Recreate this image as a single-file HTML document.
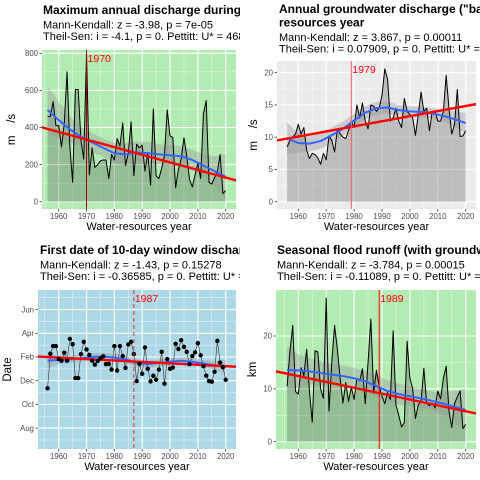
<!DOCTYPE html>
<html><head><meta charset="utf-8"><style>
body{margin:0;background:#fff;width:480px;height:480px;overflow:hidden}
svg{display:block;font-family:"Liberation Sans",sans-serif}
</style></head><body>
<svg id="c" width="480" height="480" viewBox="0 0 480 480" xmlns="http://www.w3.org/2000/svg"></svg>
<script>
const years=[];for(let y=1956;y<=2020;y++)years.push(y);
const knots=[1956,1960,1964,1968,1972,1976,1980,1984,1988,1992,1996,2000,2004,2008,2012,2016,2020];
const maxDischarge=[460,460,540,410,410,295,420,700,300,105,605,605,330,230,800,145,290,185,200,220,225,225,125,255,225,340,300,425,195,260,430,140,310,290,305,165,265,90,500,140,125,180,250,495,355,345,75,175,230,345,245,120,80,145,205,125,475,545,105,95,130,160,255,45,60];
const maxSmooth=[495,440,390,350,320,290,262,255,265,262,255,250,245,225,195,165,135];
const maxSe=[130,100,70,55,50,50,55,60,60,60,55,55,55,55,60,80,120];
const baseflow=[8.5,9.5,10,10.5,12,10.5,11.5,8,6.7,7.5,7.3,6.8,5.8,7.5,6.5,10.2,9.5,7.7,11.2,10.5,10,9.8,11,12.5,11.5,15,13,15.3,12.5,11.3,15,14.8,14,14.5,16.5,20.6,19,12.5,13,14.5,12.5,11.5,16,14,13.5,13,10.3,13.5,17,14,14.5,11,14,14,12.5,12.5,14,19.6,14.5,10.5,12,17.4,10.1,10.2,11];
const baseSmooth=[9.8,9.1,9.0,9.4,10.3,11.3,12.6,13.8,14.5,14.6,14.2,14.0,13.9,13.7,13.3,12.8,12.2];
const baseSe=[2.5,1.5,1.2,1.2,1.2,1.1,1.0,1.0,1.0,0.9,0.8,0.8,0.8,0.8,0.9,1.2,1.6];
const firstDate=[-2.64,0.28,0.92,0.92,-0.17,-0.31,0.36,-0.31,1.53,1.08,-1.78,-1.78,0.25,1.28,0.64,0.17,-0.31,-0.64,-0.33,-0.11,0.06,-0.61,-0.58,-1.06,0.92,-1.14,0.92,0.08,-0.92,1.06,1.28,0.25,-2.03,-0.58,-1.42,0.81,-1.0,-2.06,-1.58,-1.92,-1.06,0.44,-2.25,-0.17,-1.0,-0.89,1.11,0.67,1.42,0.86,0.44,-0.61,0.08,0.39,1.17,0.14,-0.78,-1.58,-2.03,-2.08,-1.25,1.36,-0.47,-0.86,-1.92];
const dateSmooth=[-0.31,-0.25,-0.2,-0.1,0.0,0.05,-0.05,-0.2,-0.5,-0.6,-0.5,-0.4,-0.32,-0.4,-0.55,-0.7,-0.85];
const dateSe=[0.6,0.35,0.3,0.3,0.3,0.3,0.3,0.3,0.3,0.3,0.3,0.3,0.3,0.3,0.3,0.35,0.6];
const floodRunoff=[10.5,17,22,9.5,9,14,12.5,17.5,9.5,3.7,17.2,17,10,8.2,27.2,5.8,15,22,17.5,12,7.3,11.2,7.6,10.3,8,12,11.5,13.8,7.2,15,23.2,9.2,13.5,10.5,8.6,7.2,9.3,8,21,7,5,2.8,3.6,19,12,10,4.4,7,7.6,13.9,7.3,6.8,7.3,6.4,9.6,8.1,12,14.3,5.8,2.7,7.2,8.5,9.6,2.5,3.3];
const floodSmooth=[13.6,13.5,13.3,13.0,12.7,12.4,12.0,11.4,10.5,9.6,9.0,8.6,8.2,7.7,7.2,6.6,6.0];
const floodSe=[4.5,3,2.5,2.2,2,2,2,2,2,2,2,1.8,1.8,1.8,2.2,3,4];
const xTicks=[1960,1970,1980,1990,2000,2010,2020];

const NS="http://www.w3.org/2000/svg";const svg=document.getElementById('c');
function mk(t,a,p){const e=document.createElementNS(NS,t);for(const k in a)e.setAttribute(k,a[k]);(p||svg).appendChild(e);return e;}

function panel(o){
 const g=mk('g',{});
 
 
 const X=y=>o.px1960+(y-1960)*(o.px2020-o.px1960)/60;
 const Y=v=>o.pyA+(v-o.vA)*(o.pyB-o.pyA)/(o.vB-o.vA);
 const cid='cl'+o.id;
 const cp=mk('clipPath',{id:cid},g);mk('rect',{x:o.l,y:o.t,width:o.r-o.l,height:o.b-o.t},cp);
 const bg=mk('rect',{x:o.l,y:o.t,width:o.r-o.l,height:o.b-o.t,fill:o.bg},g);
 
 const pc=mk('g',{'clip-path':'url(#'+cid+')'},g);
 for(let yr=1955;yr<=2025;yr+=10)mk('line',{x1:X(yr),x2:X(yr),y1:o.t,y2:o.b,stroke:'#fff','stroke-width':0.5,opacity:0.7},pc);
 for(let i=0;i<o.yTicks.length-1;i++){const v=(o.yTicks[i]+o.yTicks[i+1])/2;mk('line',{x1:o.l,x2:o.r,y1:Y(v),y2:Y(v),stroke:'#fff','stroke-width':0.5,opacity:0.7},pc);}
 if(o.minorExtra)o.minorExtra.forEach(v=>mk('line',{x1:o.l,x2:o.r,y1:Y(v),y2:Y(v),stroke:'#fff','stroke-width':0.5,opacity:0.7},pc));
 xTicks.forEach(yr=>mk('line',{x1:X(yr),x2:X(yr),y1:o.t,y2:o.b,stroke:'#fff','stroke-width':1.1},pc));
 o.yTicks.forEach(v=>mk('line',{x1:o.l,x2:o.r,y1:Y(v),y2:Y(v),stroke:'#fff','stroke-width':1.1},pc));
 if(o.area){let d='M'+X(years[0])+','+Y(0);years.forEach((yr,i)=>d+='L'+X(yr)+','+Y(o.data[i]));d+='L'+X(years[years.length-1])+','+Y(0)+'Z';
  const a=mk('path',{d:d,fill:'#333','fill-opacity':0.25},pc);}
 let bd='';knots.forEach((k,i)=>bd+=(i?'L':'M')+X(k)+','+Y(o.smooth[i]+o.se[i]));
 for(let i=knots.length-1;i>=0;i--)bd+='L'+X(knots[i])+','+Y(o.smooth[i]-o.se[i]);
 const band=mk('path',{d:bd+'Z',fill:'#999','fill-opacity':0.4},pc);
 
 let ld='';years.forEach((yr,i)=>ld+=(i?'L':'M')+X(yr)+','+Y(o.data[i]));
 const dl=mk('path',{d:ld,fill:'none',stroke:o.points?'#333':'#000','stroke-width':o.points?0.6:1,'stroke-linejoin':'round'},pc);
 
 let sd='';knots.forEach((k,i)=>sd+=(i?'L':'M')+X(k)+','+Y(o.smooth[i]));
 const sm=mk('path',{d:sd,fill:'none',stroke:'#3366ff','stroke-width':2,'stroke-linejoin':'round'},pc);
 
 const ts=mk('line',{x1:X(1950),y1:Y(o.tsAt+o.tsSlope*(1950-o.tsYear)),x2:X(2026),y2:Y(o.tsAt+o.tsSlope*(2026-o.tsYear)),stroke:'#ff0000','stroke-width':2.4},pc);
 
 if(o.points)years.forEach((yr,i)=>{const c=mk('circle',{cx:X(yr),cy:Y(o.data[i]),r:2.2,fill:'#000'},pc);});
 const vl=mk('line',{x1:X(o.cp),x2:X(o.cp),y1:o.t,y2:o.b,stroke:o.cpColor,'stroke-width':1,'stroke-dasharray':o.dash||'none'},pc);
 
 const cl=mk('text',{x:X(o.cp)+1,y:o.t+12,'font-size':10.5,fill:'#ff0000'},pc);cl.textContent=o.cp;
 
 xTicks.forEach(yr=>{mk('line',{x1:X(yr),x2:X(yr),y1:o.b,y2:o.b+2.5,stroke:'#333','stroke-width':0.8},g);
  const t=mk('text',{x:X(yr),y:o.b+10,'font-size':7.8,fill:'#4d4d4d','text-anchor':'middle'},g);t.textContent=yr;
  });
 o.yTicks.forEach((v,i)=>{mk('line',{x1:o.l-2.5,x2:o.l,y1:Y(v),y2:Y(v),stroke:'#333','stroke-width':0.8},g);
  const t=mk('text',{x:o.l-4,y:Y(v)+2.7,'font-size':7.8,fill:'#4d4d4d','text-anchor':'end'},g);t.textContent=o.yLabels[i];
  });
 const xt=mk('text',{x:(o.l+o.r)/2,y:o.b+21,'font-size':11,fill:'#000','text-anchor':'middle'},g);xt.textContent='Water-resources year';
 
 const yc=(o.t+o.b)/2;const yt=mk('text',{x:o.ytx,y:yc,'font-size':11.5,fill:'#000','text-anchor':'middle',transform:'rotate(-90 '+o.ytx+' '+yc+')'},g);yt.textContent=o.yTitle;
 
 const tc='tc'+o.id;const cp2=mk('clipPath',{id:tc},g);mk('rect',{x:o.px,y:o.py,width:240,height:240},cp2);
 const tg=mk('g',{'clip-path':'url(#'+tc+')'},g);
 o.title.forEach((s,i)=>{const t=mk('text',{x:o.tx,y:o.ty+i*13.5,'font-size':12,'font-weight':'bold',fill:'#000'},tg);t.textContent=s;
  });
 const sy=o.ty+(o.title.length-1)*13.5+14.5;
 o.sub.forEach((s,i)=>{const t=mk('text',{x:o.tx,y:sy+i*11.5,'font-size':11,fill:'#000'},tg);t.textContent=s;
  });
}
const mps='m\u00a0\u00a0\u00a0\u00a0/s';
panel({id:1,name:'panel-max-discharge',px:0,py:0,l:42,r:236,t:50,b:209,px1960:58.7,px2020:225.7,vA:0,pyA:201.7,vB:800,pyB:53.3,
 yTicks:[0,200,400,600,800],yLabels:['0','200','400','600','800'],data:maxDischarge,smooth:maxSmooth,se:maxSe,area:true,
 tsYear:1970,tsAt:335,tsSlope:-4.1,cp:1970,cpColor:'#9b0000',ytx:15,yTitle:mps,bg:'#b3ecb3',
 title:['Maximum annual discharge during'],sub:['Mann-Kendall: z = -3.98, p = 7e-05','Theil-Sen: i = -4.1, p = 0. Pettitt: U* = 468'],tx:43,ty:14});
panel({id:2,name:'panel-groundwater-discharge',px:240,py:0,l:277,r:476,t:61,b:209,px1960:298.3,px2020:465.7,vA:0,pyA:201.7,vB:20,pyB:72.7,
 yTicks:[0,5,10,15,20],yLabels:['0','5','10','15','20'],data:baseflow,smooth:baseSmooth,se:baseSe,area:true,
 tsYear:1979,tsAt:11.6,tsSlope:0.079,cp:1979,cpColor:'#f06060',ytx:257,yTitle:mps,bg:'#ebebeb',
 title:['Annual groundwater discharge ("base','resources year'],sub:['Mann-Kendall: z = 3.867, p = 0.00011','Theil-Sen: i = 0.07909, p = 0. Pettitt: U* = 7'],tx:279,ty:13});
panel({id:3,name:'panel-first-date',px:0,py:240,l:38,r:236,t:290,b:449,px1960:58.7,px2020:225.7,vA:0,pyA:357,vB:2,pyB:333.3,
 yTicks:[-6,-4,-2,0,2,4],yLabels:['Aug','Oct','Dec','Feb','Apr','Jun'],minorExtra:[-7,5],data:firstDate,smooth:dateSmooth,se:dateSe,area:false,points:true,
 tsYear:1987,tsAt:-0.38,tsSlope:-0.012,cp:1987,cpColor:'#e03030',dash:'4,3',ytx:11,yTitle:'Date',bg:'#add8e6',
 title:['First date of 10-day window discharge'],sub:['Mann-Kendall: z = -1.43, p = 0.15278','Theil-Sen: i = -0.36585, p = 0. Pettitt: U* = 3'],tx:40,ty:254});
panel({id:4,name:'panel-seasonal-flood-runoff',px:240,py:240,l:276,r:476,t:290,b:449,px1960:298.3,px2020:465.7,vA:0,pyA:441.7,vB:20,pyB:336,
 yTicks:[0,10,20],yLabels:['0','10','20'],data:floodRunoff,smooth:floodSmooth,se:floodSe,area:true,
 tsYear:1989,tsAt:9.2,tsSlope:-0.111,cp:1989,cpColor:'#ff0000',ytx:256,yTitle:'km',bg:'#b3ecb3',
 title:['Seasonal flood runoff (with groundwater'],sub:['Mann-Kendall: z = -3.784, p = 0.00015','Theil-Sen: i = -0.11089, p = 0. Pettitt: U* = 5'],tx:277,ty:254});
</script>
</body></html>
